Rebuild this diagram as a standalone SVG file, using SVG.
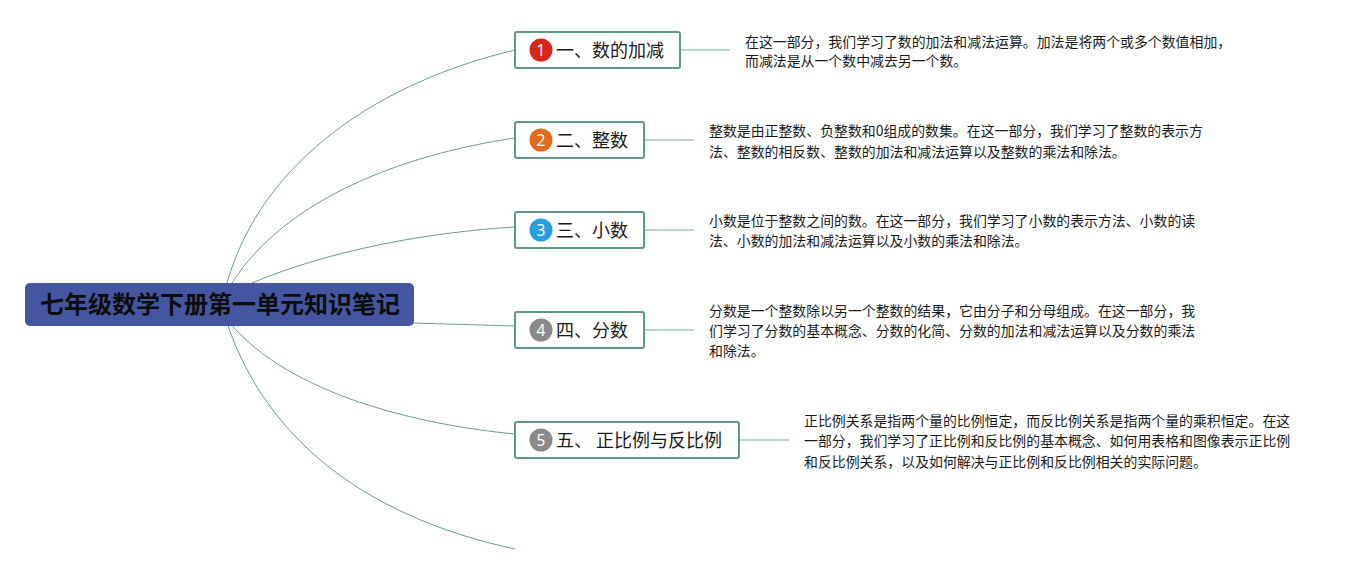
<svg xmlns="http://www.w3.org/2000/svg" width="1364" height="575" viewBox="0 0 1364 575">
<style>
.bg{fill:#ffffff}
.curve{fill:none;stroke:#6b9e8e;stroke-width:1}
.link{fill:none;stroke:#a3c8bd;stroke-width:1.5}
.box{fill:#ffffff;stroke:#5f9a88;stroke-width:2}
.lbl{font-family:"Noto Sans CJK SC","Noto Sans",sans-serif;font-size:18px;fill:#1a1a1a}
.num{font-family:"Noto Sans","Liberation Sans",sans-serif;font-size:15.5px;fill:#ffffff;text-anchor:middle}
.note{font-family:"Noto Sans CJK SC","Noto Sans",sans-serif;font-size:13.9px;fill:#1a1a1a}
.root{font-family:"Noto Sans CJK SC","Noto Sans",sans-serif;font-size:24px;font-weight:bold;fill:#0d0d0d;text-anchor:middle}
</style>
<rect class="bg" x="0" y="0" width="1364" height="575"/>
<g id="connectors">
<path class="curve" d="M227,283 C262,160 380,82 515,50"/>
<path class="curve" d="M232,283 C285,200 400,155 515,138"/>
<path class="curve" d="M252,283 C330,250 430,232 515,227"/>
<path class="curve" d="M413,323 L515,326"/>
<path class="curve" d="M230,323 C290,395 420,425 515,434"/>
<path class="curve" d="M227,323 C270,450 380,520 515,549"/>
<path class="link" d="M680,50 H730"/>
<path class="link" d="M644,140 H694"/>
<path class="link" d="M644,230 H694"/>
<path class="link" d="M644,330 H694"/>
<path class="link" d="M739,440 H789"/>
</g>
<g id="root">
<rect x="25" y="283" width="389" height="43" rx="5" fill="#4556a0"/>
<text class="root" x="220" y="313">七年级数学下册第一单元知识笔记</text>
</g>
<g id="node1">
<rect class="box" x="515" y="32" width="165" height="36" rx="2"/>
<circle cx="541" cy="50" r="11.5" fill="#d7261b"/>
<text class="num" x="541" y="55.5">1</text>
<text class="lbl" x="556" y="57">一、数的加减</text>
</g>
<g id="node2">
<rect class="box" x="515" y="122" width="129" height="36" rx="2"/>
<circle cx="541" cy="140" r="11.5" fill="#e26b1c"/>
<text class="num" x="541" y="145.5">2</text>
<text class="lbl" x="556" y="147">二、整数</text>
</g>
<g id="node3">
<rect class="box" x="515" y="212" width="129" height="36" rx="2"/>
<circle cx="541" cy="230" r="11.5" fill="#279ee0"/>
<text class="num" x="541" y="235.5">3</text>
<text class="lbl" x="556" y="237">三、小数</text>
</g>
<g id="node4">
<rect class="box" x="515" y="312" width="129" height="36" rx="2"/>
<circle cx="541" cy="330" r="11.5" fill="#8a8a8a"/>
<text class="num" x="541" y="335.5">4</text>
<text class="lbl" x="556" y="337">四、分数</text>
</g>
<g id="node5">
<rect class="box" x="515" y="422" width="224" height="36" rx="2"/>
<circle cx="541" cy="440" r="11.5" fill="#8a8a8a"/>
<text class="num" x="541" y="445.5">5</text>
<text class="lbl" x="556" y="447" xml:space="preserve">五、 正比例与反比例</text>
</g>
<g id="note1">
<text class="note" x="745" y="47">在这一部分，我们学习了数的加法和减法运算。加法是将两个或多个数值相加，</text>
<text class="note" x="745" y="66">而减法是从一个数中减去另一个数。</text>
</g>
<g id="note2">
<text class="note" x="709" y="136">整数是由正整数、负整数和0组成的数集。在这一部分，我们学习了整数的表示方</text>
<text class="note" x="709" y="157">法、整数的相反数、整数的加法和减法运算以及整数的乘法和除法。</text>
</g>
<g id="note3">
<text class="note" x="709" y="226">小数是位于整数之间的数。在这一部分，我们学习了小数的表示方法、小数的读</text>
<text class="note" x="709" y="246">法、小数的加法和减法运算以及小数的乘法和除法。</text>
</g>
<g id="note4">
<text class="note" x="709" y="316">分数是一个整数除以另一个整数的结果，它由分子和分母组成。在这一部分，我</text>
<text class="note" x="709" y="336">们学习了分数的基本概念、分数的化简、分数的加法和减法运算以及分数的乘法</text>
<text class="note" x="709" y="356">和除法。</text>
</g>
<g id="note5">
<text class="note" x="804" y="426">正比例关系是指两个量的比例恒定，而反比例关系是指两个量的乘积恒定。在这</text>
<text class="note" x="804" y="446">一部分，我们学习了正比例和反比例的基本概念、如何用表格和图像表示正比例</text>
<text class="note" x="804" y="467">和反比例关系，以及如何解决与正比例和反比例相关的实际问题。</text>
</g>
</svg>
